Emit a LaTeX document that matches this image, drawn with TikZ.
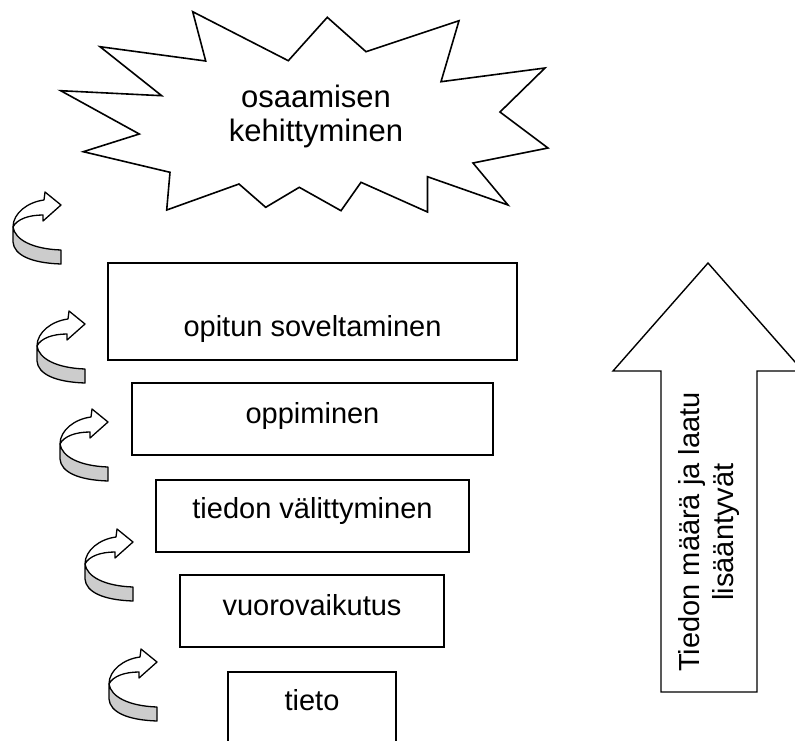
\documentclass[tikz,border=0pt]{standalone}
\usepackage{fontspec}
\setmainfont{Liberation Sans}
\definecolor{ribbon}{RGB}{204,204,204}
\begin{document}
\begin{tikzpicture}[x=1pt,y=-1pt,
  stage/.style={draw, line width=1.6pt, inner sep=0pt},
  stagetext/.style={anchor=base, inner sep=0pt, font=\fontsize{29}{33}\selectfont},
  outline/.style={draw, line width=1.5pt, line join=miter},
  turn/.pic={
    % upper (white) band with the arrow head
    \filldraw[fill=white, line width=1.3pt, line join=round]
      (0,0) -- (-16,-13) -- (-17,-5)
      .. controls (-33,-3) and (-48,8) .. (-48,22)
      .. controls (-44,14) and (-32,10) .. (-18,10)
      -- (-18,16) -- cycle;
    % lower (grey) side of the ribbon
    \filldraw[fill=ribbon, line width=1.3pt, line join=round]
      (-48,22) -- (-48,37)
      .. controls (-47,50) and (-30,58) .. (0,59)
      -- (0,45)
      .. controls (-28,44) and (-46,35) .. (-48,22) -- cycle;
  }]
\useasboundingbox (0,0) rectangle (795,740);

% explosion shape at the top
\draw[outline, line width=1.6pt]
  (192.7,11.7) -- (288.3,60.7) -- (327.3,17.3) -- (366,51.7) -- (459,20.7)
  -- (441,81.7) -- (545,68) -- (500,112) -- (548,148) -- (473,163)
  -- (508,205) -- (427.5,176.7) -- (427.5,212) -- (361,182.3) -- (341,210.7)
  -- (299.3,187.3) -- (265.7,207.3) -- (239,184) -- (166.7,210) -- (170,172.3)
  -- (83.3,151.7) -- (139.3,134) -- (60.7,90.7) -- (161.7,95.7) -- (100,46.7)
  -- (205.7,61) -- cycle;
\node[align=center, inner sep=0pt, font=\fontsize{31}{34}\selectfont]
  (burst) at (316,116) {osaamisen\\kehittyminen};

% stacked stages
\node[stage, minimum width=409pt, minimum height=97pt] (b1) at (312.5,311.5) {};
\node[stage, minimum width=361pt, minimum height=72pt] (b2) at (312.5,419) {};
\node[stage, minimum width=313pt, minimum height=72pt] (b3) at (312.5,516) {};
\node[stage, minimum width=264pt, minimum height=72pt] (b4) at (312,611) {};
\node[stage, minimum width=168pt, minimum height=72pt] (b5) at (312,708) {};

\node[stagetext] (t1) at (312.5,336) {opitun soveltaminen};
\node[stagetext] (t2) at (312.5,423) {oppiminen};
\node[stagetext] (t3) at (312.5,518) {tiedon välittyminen};
\node[stagetext] (t4) at (312,615) {vuorovaikutus};
\node[stagetext] (t5) at (312,710) {tieto};

% curved arrows beside the stages
\pic (c1) at (61,205) {turn};
\pic (c2) at (85,324) {turn};
\pic (c3) at (108,422) {turn};
\pic (c4) at (133,542) {turn};
\pic (c5) at (157,662) {turn};

% large upward arrow
\draw[outline, line width=1.4pt]
  (708,263) -- (803,371) -- (757,371) -- (757,692) -- (661,692)
  -- (661,371) -- (613,371) -- cycle;
\node[rotate=90, align=center, inner sep=0pt, font=\fontsize{29}{34}\selectfont]
  (grow) at (708.5,532) {Tiedon määrä ja laatu\\lisääntyvät};
\end{tikzpicture}
\end{document}
